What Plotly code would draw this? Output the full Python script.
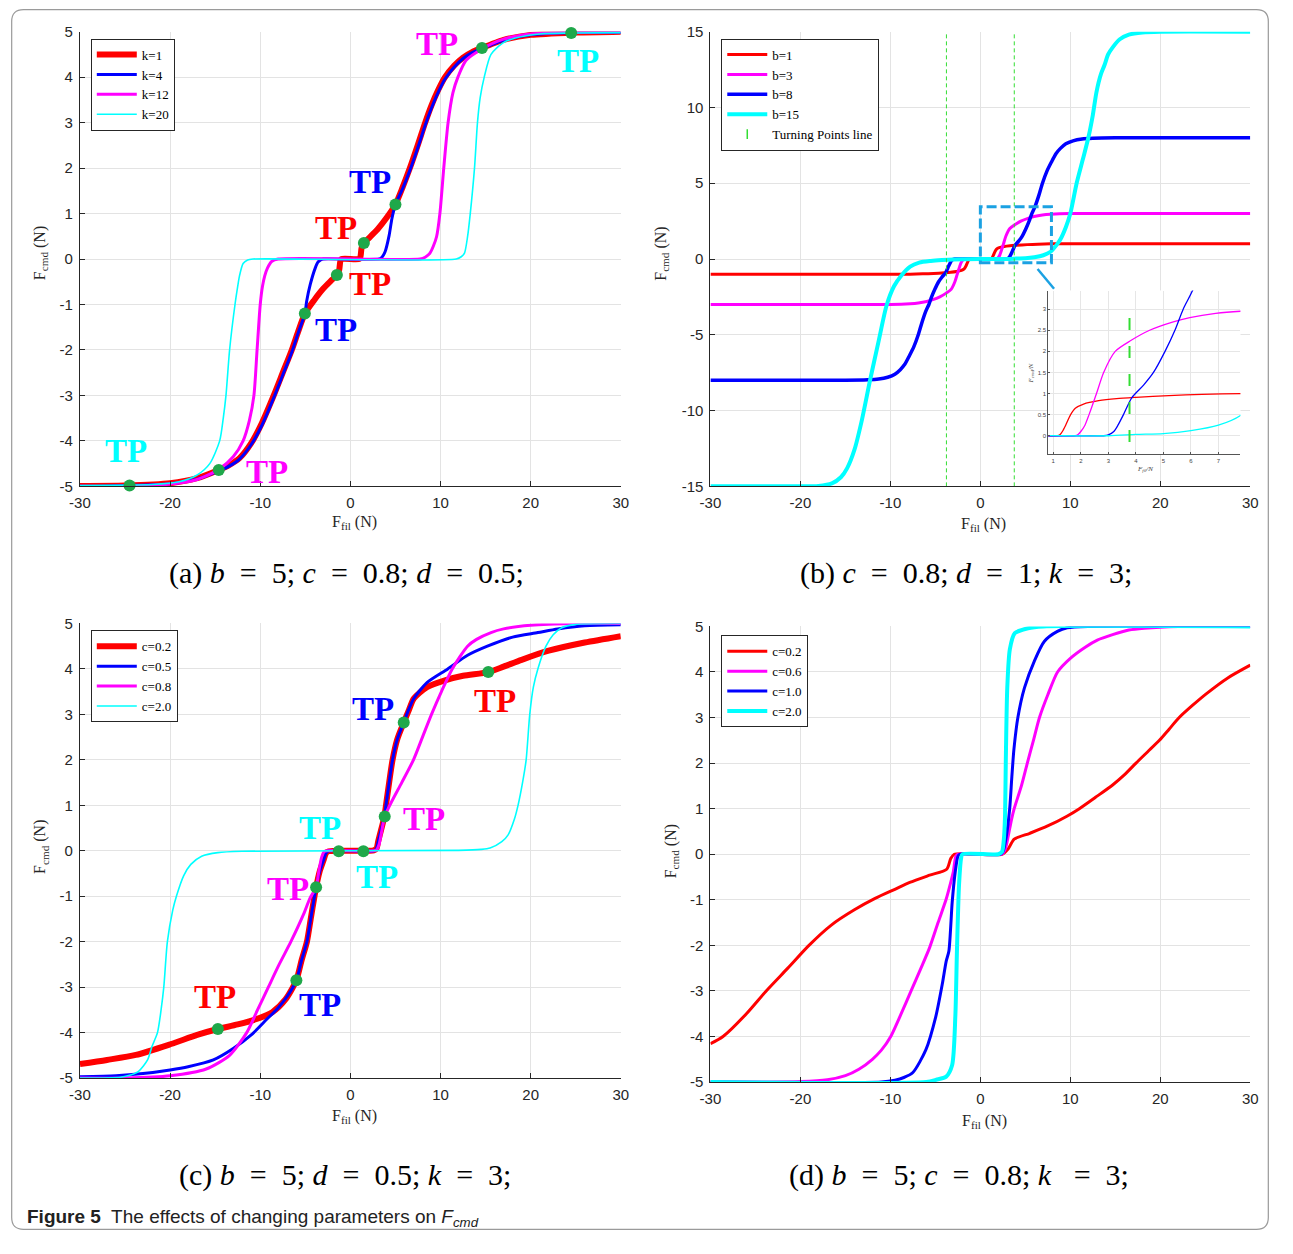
import plotly.graph_objects as go

# The page body keeps an 8px margin, so the figure is 16px smaller than the window
# and every reference pixel position is shifted by 8px.
PAGE_OFF = 8
W, H = 1293 - 2 * PAGE_OFF, 1254 - 2 * PAGE_OFF

RED, BLUE, MAG, CYAN = "#ff0000", "#0000ff", "#ff00ff", "#00ffff"
GREEN_DOT = "#1fa84a"
TP_GREEN = "#33dd33"
BOX_BLUE = "#1ba1e2"
AXC = "#262626"
GRID = "#e3e3e3"

# ---------------- data ----------------
# (a) b=5, c=0.8, d=0.5 ; varying k
A_K1 = [(-30,-4.99),(-25,-4.98),(-20,-4.93),(-17,-4.82),(-14.6,-4.64),(-13.5,-4.54),(-12.3,-4.38),
        (-11,-4.05),(-9.8,-3.6),(-8.5,-3.0),(-7.5,-2.5),(-6.5,-2.0),(-5.8,-1.6),(-5.05,-1.2),(-4,-0.9),
        (-3,-0.65),(-2,-0.45),(-1.5,-0.35),(-1.25,-0.25),(-1.12,-0.05),(-1.0,0),(1.0,0),(1.12,0.05),
        (1.25,0.25),(1.5,0.35),(2,0.45),(3,0.65),(4,0.9),(5,1.2),(5.8,1.58),(6.6,2.0),(7.5,2.52),
        (8.3,3.0),(9,3.38),(9.7,3.7),(10.5,4.0),(11.5,4.25),(12.5,4.43),(13.5,4.55),(14.6,4.64),
        (16,4.75),(17,4.82),(20,4.93),(25,4.98),(30,5.0)]
A_K4 = [(-30,-5.0),(-25,-4.98),(-20,-4.94),(-17,-4.84),(-14.6,-4.66),(-13.5,-4.56),(-12.3,-4.4),
        (-11,-4.08),(-9.8,-3.65),(-8.5,-3.05),(-7.5,-2.55),(-6.5,-2.05),(-5.8,-1.63),(-5.05,-1.2),
        (-4.85,-0.93),(-4.45,-0.56),(-3.9,-0.2),(-3.6,-0.07),(-3.3,-0.02),(-3.0,0),(3.2,0),(3.5,0.04),
        (3.85,0.16),(4.3,0.52),(4.6,0.88),(5,1.2),(5.8,1.55),(6.6,1.95),(7.5,2.46),(8.3,2.94),(9,3.32),
        (9.7,3.65),(10.5,3.96),(11.5,4.22),(12.5,4.41),(13.5,4.54),(14.6,4.63),(16,4.74),(17,4.81),
        (20,4.93),(25,4.98),(30,4.99)]
A_K12 = [(-30,-5.0),(-25,-5.0),(-20,-4.95),(-17,-4.85),(-14.6,-4.63),(-13.0,-4.35),(-11.9,-4.0),
         (-11.2,-3.55),(-10.7,-3.0),(-10.35,-2.0),(-10.0,-1.0),(-9.75,-0.6),(-9.5,-0.37),(-9.2,-0.2),
         (-8.7,-0.05),(-8.0,0),(7.74,0),(8.3,0.04),(8.83,0.13),(9.2,0.28),(9.56,0.49),(9.93,1.0),
         (10.36,2.0),(10.84,3.0),(11.38,3.66),(11.93,4.0),(12.84,4.37),(14.6,4.62),(16.9,4.83),
         (20,4.95),(25,4.99),(30,5.0)]
A_K20 = [(-30,-4.98),(-22,-4.96),(-19,-4.9),(-17,-4.75),(-15.6,-4.5),(-14.5,-4.0),(-14.1,-3.5),
         (-13.8,-3.0),(-13.4,-2.0),(-12.8,-1.0),(-12.5,-0.6),(-12.3,-0.37),(-11.9,-0.1),(-11.4,-0.02),
         (-10.8,0),(11.75,0),(12.3,0.05),(12.66,0.13),(13.0,0.49),(13.3,1.0),(13.77,2.0),(14.1,3.0),
         (14.4,3.55),(14.85,4.0),(15.6,4.5),(16.9,4.75),(18.3,4.86),(21,4.95),(24.5,4.97),(30,4.98)]
A_TP_DOTS = [(-24.5,-4.98),(-14.6,-4.64),(-5.05,-1.2),(-1.5,-0.35),(1.5,0.35),(5.0,1.2),(14.6,4.64),(24.5,4.97)]
A_TP_LABELS = [(9.6,4.72,MAG),(25.2,4.35,CYAN),(2.13,1.70,BLUE),(-1.58,0.68,RED),
               (2.13,-0.55,RED),(-1.58,-1.57,BLUE),(-24.9,-4.22,CYAN),(-9.2,-4.68,MAG)]

# (b) c=0.8, d=1, k=3 ; varying b
B_B1 = [(-30,-1.0),(-10,-1.0),(-7.8,-1.0),(-6.4,-0.98),(-5.2,-0.95),(-4.0,-0.91),(-3.3,-0.88),
        (-2.65,-0.83),(-2.1,-0.75),(-1.8,-0.65),(-1.63,-0.5),(-1.45,-0.25),(-1.33,-0.1),(-1.25,-0.03),
        (-1.15,0),(1.15,0),(1.25,0.03),(1.33,0.1),(1.45,0.25),(1.63,0.5),(1.8,0.65),(2.1,0.75),
        (2.65,0.83),(3.3,0.88),(4.0,0.91),(5.2,0.95),(6.4,0.98),(7.8,1.0),(10,1.0),(30,1.0)]
B_B3 = [(-30,-3.0),(-10,-3.0),(-7.8,-2.95),(-6.9,-2.9),(-5.96,-2.8),(-5.36,-2.7),(-4.5,-2.5),
        (-3.8,-2.25),(-3.25,-2.0),(-2.83,-1.5),(-2.57,-1.0),(-2.3,-0.5),(-2.15,-0.25),(-2.0,-0.1),
        (-1.9,-0.03),(-1.8,0),(1.8,0),(1.9,0.03),(2.0,0.1),(2.15,0.25),(2.3,0.5),(2.57,1.0),(2.83,1.5),
        (3.25,2.0),(3.8,2.25),(4.5,2.5),(5.36,2.7),(5.96,2.8),(6.9,2.9),(7.8,2.95),(10,3.0),(30,3.0)]
B_B8 = [(-30,-8.0),(-15,-8.0),(-12.5,-7.97),(-11.3,-7.92),(-10.3,-7.8),(-9.5,-7.6),(-8.9,-7.3),
        (-8.4,-6.95),(-7.9,-6.4),(-7.4,-5.8),(-6.9,-5.0),(-6.5,-4.2),(-6.06,-3.44),(-5.72,-3.0),
        (-5.42,-2.5),(-5.06,-2.0),(-4.64,-1.5),(-4.28,-1.2),(-3.85,-0.9),(-3.55,-0.5),(-3.35,-0.25),
        (-3.2,-0.1),(-3.0,-0.02),(-2.83,0),(2.83,0),(3.0,0.02),(3.2,0.1),(3.35,0.25),(3.55,0.5),
        (3.85,0.9),(4.28,1.2),(4.64,1.5),(5.06,2.0),(5.42,2.5),(5.72,3.0),(6.06,3.44),(6.5,4.2),
        (6.9,5.0),(7.4,5.8),(7.9,6.4),(8.4,6.95),(8.9,7.3),(9.5,7.6),(10.3,7.8),(11.3,7.92),
        (12.5,7.97),(15,8.0),(30,8.0)]
B_B15 = [(-30,-15.0),(-20,-15.0),(-18,-14.97),(-16.5,-14.8),(-15.5,-14.4),(-14.8,-13.8),(-14,-12.6),
         (-13.17,-10.63),(-12.26,-8.0),(-11.3,-5.4),(-10.44,-3.1),(-9.6,-1.8),(-8.8,-1.1),(-7.8,-0.5),
         (-6.8,-0.24),(-5.5,-0.13),(-4.27,-0.07),(-3,-0.03),(0,0),(3.0,0.0),(4,0.03),(5,0.05),(6,0.12),
         (7,0.25),(7.8,0.48),(8.5,0.95),(8.9,1.3),(9.5,2.1),(10,3.0),(10.7,5.0),(11.4,6.6),(12.0,8.0),
         (12.5,9.5),(12.9,11.0),(13.4,12.2),(13.8,12.8),(14.2,13.5),(14.75,14.0),(15.5,14.5),
         (16.5,14.8),(18,14.95),(20,15.0),(30,15.0)]
TP_LINES_X = [-3.77, 3.77]
ZOOM_BOX = (0.0, 7.9, -0.25, 3.45)          # x0, x1, y0, y1 in panel (b) units
ZOOM_LEADER = [(6.36, -0.66), (8.19, -1.96)]
INSET_XRANGE = [0.82, 7.8]
INSET_YRANGE = [-0.44, 3.44]

# (c) b=5, d=0.5, k=3 ; varying c
C_C02 = [(-30,-4.69),(-27,-4.6),(-23.8,-4.49),(-19.9,-4.25),(-17,-4.05),(-14.7,-3.92),(-12.5,-3.82),
         (-10.4,-3.7),(-8.66,-3.55),(-7.2,-3.27),(-6.0,-2.85),(-5.4,-2.4),(-4.82,-2.0),(-4.4,-1.5),
         (-3.98,-1.0),(-3.8,-0.8),(-3.4,-0.45),(-3.0,-0.22),(-2.7,-0.05),(-2.4,-0.01),(2.6,0.01),
         (2.9,0.05),(3.1,0.22),(3.4,0.45),(3.77,0.755),(3.95,1.0),(4.3,1.5),(4.68,2.0),(5.2,2.45),
         (5.92,2.82),(6.5,3.1),(7.04,3.35),(8.5,3.6),(10.5,3.75),(12.5,3.85),(15.3,3.93),(17,4.05),
         (19,4.2),(22,4.4),(26,4.58),(30,4.72)]
C_C05 = [(-30,-4.97),(-26,-4.95),(-23,-4.9),(-20,-4.82),(-18,-4.75),(-15.2,-4.6),(-13,-4.35),
         (-11,-4.05),(-9.5,-3.75),(-8,-3.45),(-7,-3.2),(-6.0,-2.85),(-5.4,-2.4),(-4.82,-2.0),(-4.4,-1.5),
         (-3.98,-1.0),(-3.8,-0.8),(-3.4,-0.45),(-3.0,-0.22),(-2.7,-0.05),(-2.4,0),(2.6,0),(2.9,0.05),
         (3.1,0.22),(3.4,0.45),(3.77,0.755),(3.95,1.0),(4.3,1.5),(4.68,2.0),(5.2,2.45),(5.92,2.82),
         (6.5,3.12),(7.04,3.35),(8.5,3.7),(10.8,4.0),(13,4.3),(15.2,4.5),(18,4.7),(20.8,4.8),(23,4.88),
         (26,4.95),(30,4.97)]
C_C08 = [(-30,-5.0),(-25,-5.0),(-20,-4.95),(-16,-4.8),(-13.4,-4.5),(-11.5,-4.0),(-10.3,-3.5),
         (-9.1,-3.0),(-7.9,-2.5),(-6.6,-2.0),(-5.2,-1.4),(-4.5,-1.05),(-3.8,-0.8),(-3.5,-0.45),
         (-3.2,-0.15),(-2.9,-0.02),(-2.6,0),(2.6,0),(2.9,0.02),(3.2,0.15),(3.5,0.45),(3.81,0.755),
         (4.5,1.05),(5.7,1.5),(7.0,2.0),(8.0,2.5),(9.0,3.0),(10.1,3.5),(11.3,4.0),(13,4.5),(14,4.65),
         (15.6,4.8),(17,4.88),(20,4.96),(25,5.0),(30,5.0)]
C_C20 = [(-30,-5.0),(-25.5,-4.98),(-24.7,-4.95),(-23.5,-4.85),(-22.5,-4.6),(-22.0,-4.3),(-21.4,-4.0),
         (-21,-3.5),(-20.7,-3.0),(-20.3,-2.0),(-19.7,-1.3),(-19.3,-1.0),(-18.5,-0.55),(-17.7,-0.3),
         (-16.5,-0.12),(-14.7,-0.04),(-12,-0.01),(12,0.01),(14.5,0.03),(15.5,0.06),(16.8,0.2),
         (17.5,0.35),(18.2,0.7),(18.6,1.0),(19.1,1.5),(19.5,2.0),(19.9,3.0),(20.3,3.6),(20.8,4.0),
         (21.7,4.5),(22.5,4.75),(23.4,4.9),(25,4.98),(30,5.0)]
C_TP_DOTS = [(-14.7,-3.92),(-5.99,-2.85),(-3.8,-0.8),(-1.29,-0.01),(1.44,-0.01),(3.81,0.755),(5.92,2.82),(15.3,3.93)]
C_TP_LABELS = [(2.46,3.11,BLUE),(16.1,3.29,RED),(-3.33,0.51,CYAN),(8.14,0.70,MAG),
               (3.0,-0.57,CYAN),(-6.9,-0.84,MAG),(-15.0,-3.22,RED),(-3.33,-3.39,BLUE)]

# (d) b=5, c=0.8, k=3 ; varying d (labelled "c=" in the original legend)
D_C02 = [(-30,-4.16),(-28.6,-4.0),(-26,-3.5),(-23.8,-3.0),(-21.4,-2.5),(-19.05,-2.0),(-16.6,-1.56),
         (-14,-1.22),(-11.7,-0.97),(-9.5,-0.77),(-7.85,-0.62),(-5.64,-0.46),(-3.74,-0.33),(-3.3,-0.1),
         (-2.9,0),(2.4,0),(3.1,0.12),(3.76,0.33),(5.5,0.46),(7.48,0.62),(9.67,0.84),(11.0,1.0),
         (12.8,1.25),(14.7,1.52),(16,1.74),(17.3,2.0),(18.6,2.25),(19.9,2.5),(21,2.75),(22.1,3.0),
         (23.6,3.27),(25.1,3.52),(27.5,3.87),(30,4.15)]
D_C06 = [(-30,-5.0),(-20,-4.99),(-17,-4.95),(-15,-4.86),(-13.5,-4.72),(-12,-4.5),(-11,-4.3),
         (-9.96,-4.0),(-8.8,-3.5),(-7.7,-3.0),(-6.6,-2.5),(-5.64,-2.05),(-4.7,-1.5),(-3.82,-1.0),
         (-3.4,-0.7),(-3.0,-0.38),(-2.73,-0.05),(-2.5,0),(2.4,0),(2.75,0.1),(3.1,0.4),(3.45,0.75),
         (3.76,1.0),(4.56,1.5),(5.22,2.0),(5.9,2.5),(6.57,3.0),(7.5,3.5),(8.58,4.0),(10,4.3),
         (11.7,4.55),(13,4.7),(14.7,4.82),(16.5,4.92),(18.2,4.96),(22,5.0),(30,5.0)]
D_C10 = [(-30,-5.0),(-11,-5.0),(-9.5,-4.96),(-8.5,-4.9),(-7.5,-4.79),(-6.05,-4.29),(-4.96,-3.57),
         (-4.23,-2.85),(-3.8,-2.35),(-3.5,-2.13),(-3.13,-1.05),(-2.8,-0.4),(-2.5,-0.05),(-2.3,0),
         (2.2,0),(2.5,0.05),(2.89,0.4),(3.26,1.0),(3.5,1.7),(3.73,2.3),(4.17,3.0),(4.9,3.65),
         (6.0,4.24),(7.1,4.67),(8.56,4.89),(9.66,4.97),(12,5.0),(30,5.0)]
D_C20 = [(-30,-5.0),(-6,-5.0),(-4.9,-4.95),(-3.8,-4.88),(-3.14,-4.63),(-2.78,-3.55),(-2.6,-2.1),
         (-2.37,-0.67),(-2.15,-0.1),(-2.0,0),(2.0,0),(2.4,0.05),(2.6,0.3),(2.73,0.77),(2.84,2.2),
         (2.99,3.65),(3.28,4.5),(3.83,4.85),(5.3,4.96),(7,5.0),(30,5.0)]

X_TICKS = [-30, -20, -10, 0, 10, 20, 30]
Y_TICKS_5 = [-5, -4, -3, -2, -1, 0, 1, 2, 3, 4, 5]
Y_TICKS_15 = [-15, -10, -5, 0, 5, 10, 15]
INSET_XTICKS = [1, 2, 3, 4, 5, 6, 7]
INSET_YTICKS = [0, 0.5, 1, 1.5, 2, 2.5, 3]

# ---------------- figure ----------------
fig = go.Figure()


def px_x(px):
    """reference page pixel -> paper fraction"""
    return (px - PAGE_OFF) / W


def px_y(py):
    return 1 - (py - PAGE_OFF) / H


def add_curve(pairs, color, width, name, ax, legend, showlegend=True):
    fig.add_trace(go.Scatter(
        x=[p[0] for p in pairs], y=[p[1] for p in pairs], mode="lines",
        line=dict(color=color, width=width, shape="spline", smoothing=0.7), name=name,
        xaxis=ax[0], yaxis=ax[1], legend=legend, showlegend=showlegend))


def add_dots(pairs, ax):
    fig.add_trace(go.Scatter(
        x=[p[0] for p in pairs], y=[p[1] for p in pairs], mode="markers",
        marker=dict(color=GREEN_DOT, size=12), showlegend=False, cliponaxis=False,
        xaxis=ax[0], yaxis=ax[1]))


AX_A, AX_B, AX_C, AX_D, AX_I = ("x", "y"), ("x2", "y2"), ("x3", "y3"), ("x4", "y4"), ("x5", "y5")

# panel (a)
add_curve(A_K1, RED, 6, "k=1", AX_A, "legend")
add_curve(A_K4, BLUE, 3, "k=4", AX_A, "legend")
add_curve(A_K12, MAG, 3, "k=12", AX_A, "legend")
add_curve(A_K20, CYAN, 1.6, "k=20", AX_A, "legend")
add_dots(A_TP_DOTS, AX_A)

# panel (b)
add_curve(B_B1, RED, 3, "b=1", AX_B, "legend2")
add_curve(B_B3, MAG, 3, "b=3", AX_B, "legend2")
add_curve(B_B8, BLUE, 3.5, "b=8", AX_B, "legend2")
add_curve(B_B15, CYAN, 4, "b=15", AX_B, "legend2")
for xv in TP_LINES_X:
    fig.add_trace(go.Scatter(x=[xv, xv], y=[Y_TICKS_15[0], Y_TICKS_15[-1]], mode="lines",
                             line=dict(color=TP_GREEN, width=1, dash="4px,3px"),
                             showlegend=False, xaxis="x2", yaxis="y2"))
fig.add_trace(go.Scatter(x=[None], y=[None], mode="markers", name="Turning Points line",
                         marker=dict(symbol="line-ns", size=7, color=TP_GREEN,
                                     line=dict(color=TP_GREEN, width=1.5)),
                         xaxis="x2", yaxis="y2", legend="legend2"))
fig.add_trace(go.Scatter(x=[p[0] for p in ZOOM_LEADER], y=[p[1] for p in ZOOM_LEADER], mode="lines",
                         line=dict(color=BOX_BLUE, width=2.5), showlegend=False,
                         xaxis="x2", yaxis="y2"))

# inset of panel (b): same curves, zoomed
add_curve(B_B1, RED, 1.3, "b=1", AX_I, "legend2", False)
add_curve(B_B3, MAG, 1.3, "b=3", AX_I, "legend2", False)
add_curve(B_B8, BLUE, 1.3, "b=8", AX_I, "legend2", False)
add_curve(B_B15, CYAN, 1.3, "b=15", AX_I, "legend2", False)
fig.add_trace(go.Scatter(x=[TP_LINES_X[1], TP_LINES_X[1]], y=[-0.15, 3.1], mode="lines",
                         line=dict(color=TP_GREEN, width=2, dash="12px,16px"),
                         showlegend=False, xaxis="x5", yaxis="y5"))

# panel (c)
add_curve(C_C02, RED, 6, "c=0.2", AX_C, "legend3")
add_curve(C_C05, BLUE, 3, "c=0.5", AX_C, "legend3")
add_curve(C_C08, MAG, 3, "c=0.8", AX_C, "legend3")
add_curve(C_C20, CYAN, 1.6, "c=2.0", AX_C, "legend3")
add_dots(C_TP_DOTS, AX_C)

# panel (d)
add_curve(D_C02, RED, 3, "c=0.2", AX_D, "legend4")
add_curve(D_C06, MAG, 3, "c=0.6", AX_D, "legend4")
add_curve(D_C10, BLUE, 3, "c=1.0", AX_D, "legend4")
add_curve(D_C20, CYAN, 4, "c=2.0", AX_D, "legend4")

# ---------------- axes ----------------
TICKFONT = dict(family="Liberation Sans, Arial, sans-serif", size=15, color=AXC)


def axis(dom, rng, ticks, anchor):
    return dict(domain=dom, range=rng, tickvals=ticks, ticktext=[str(t) for t in ticks],
                showline=True, linecolor=AXC, linewidth=1, mirror=False,
                ticks="inside", ticklen=5, tickcolor=AXC, tickwidth=1,
                showgrid=True, gridcolor=GRID, gridwidth=1, zeroline=False,
                tickfont=TICKFONT, anchor=anchor, ticklabelstandoff=3, fixedrange=True)


XD_L = [px_x(78), px_x(627)]
XD_R = [px_x(718), px_x(1266)]
YD_T = [px_y(492), px_y(31)]
YD_C = [px_y(1092), px_y(631)]
YD_D = [px_y(1096), px_y(634)]

fig.update_layout(
    xaxis=axis(XD_L, [-30, 30], X_TICKS, "y"),
    yaxis=axis(YD_T, [-5, 5], Y_TICKS_5, "x"),
    xaxis2=axis(XD_R, [-30, 30], X_TICKS, "y2"),
    yaxis2=axis(YD_T, [-15, 15], Y_TICKS_15, "x2"),
    xaxis3=axis(XD_L, [-30, 30], X_TICKS, "y3"),
    yaxis3=axis(YD_C, [-5, 5], Y_TICKS_5, "x3"),
    xaxis4=axis(XD_R, [-30, 30], X_TICKS, "y4"),
    yaxis4=axis(YD_D, [-5, 5], Y_TICKS_5, "x4"),
)
INSET_FONT = dict(family="Liberation Sans, Arial, sans-serif", size=6, color="#444")
inset_common = dict(showline=True, linecolor="#555", linewidth=1, ticks="inside", ticklen=2,
                    tickcolor="#555", showgrid=True, gridcolor="#e6e6e6", zeroline=False,
                    tickfont=INSET_FONT, fixedrange=True)
fig.update_layout(
    xaxis5=dict(domain=[px_x(1061), px_x(1256)], range=INSET_XRANGE, tickvals=INSET_XTICKS,
                ticktext=[str(t) for t in INSET_XTICKS], anchor="y5", **inset_common),
    yaxis5=dict(domain=[px_y(459.5), px_y(293.5)], range=INSET_YRANGE, tickvals=INSET_YTICKS,
                ticktext=[("%g" % t) for t in INSET_YTICKS], anchor="x5", **inset_common),
)

# ---------------- legends ----------------
LEGFONT = dict(family="Liberation Serif, Times New Roman, serif", size=13, color="black")


def legend(px, py):
    return dict(x=px_x(px), y=px_y(py), xanchor="left", yanchor="top", bgcolor="white",
                bordercolor=AXC, borderwidth=1, font=LEGFONT, itemwidth=40,
                tracegroupgap=0, traceorder="normal")


fig.update_layout(legend=legend(89, 38), legend2=legend(729, 38),
                  legend3=legend(89, 638), legend4=legend(729, 643))

# ---------------- shapes ----------------
shapes = []
# white backing for the inset so the main panel does not show through
shapes.append(dict(type="rect", xref="x5", yref="y5", x0=INSET_XRANGE[0], x1=INSET_XRANGE[1],
                   y0=INSET_YRANGE[0], y1=INSET_YRANGE[1], fillcolor="white",
                   line=dict(width=0), layer="below"))
shapes.append(dict(type="rect", xref="x2", yref="y2", x0=ZOOM_BOX[0], x1=ZOOM_BOX[1],
                   y0=ZOOM_BOX[2], y1=ZOOM_BOX[3], line=dict(color=BOX_BLUE, width=3, dash="10px,4px"),
                   layer="above"))
# outer rounded frame (as close to the page edge as the figure allows)
x0, x1, y0, y1 = px_x(8.7), px_x(1284.3), px_y(1245.3), px_y(8.7)
rx, ry = 12 / W, 12 / H
path = (f"M {x0+rx},{y1} L {x1-rx},{y1} Q {x1},{y1} {x1},{y1-ry} L {x1},{y0+ry} "
        f"Q {x1},{y0} {x1-rx},{y0} L {x0+rx},{y0} Q {x0},{y0} {x0},{y0+ry} "
        f"L {x0},{y1-ry} Q {x0},{y1} {x0+rx},{y1} Z")
shapes.append(dict(type="path", xref="paper", yref="paper", path=path,
                   line=dict(color="#9a9a9a", width=1.2), layer="below"))
fig.update_layout(shapes=shapes)

# ---------------- annotations ----------------
ann = []
TPFONT = "Liberation Serif, Times New Roman, serif"
for labels, (xa, ya) in ((A_TP_LABELS, AX_A), (C_TP_LABELS, AX_C)):
    for (tx, ty, col) in labels:
        ann.append(dict(x=tx, y=ty, xref=xa, yref=ya, text="<b>TP</b>", showarrow=False,
                        xanchor="center", yanchor="middle",
                        font=dict(family=TPFONT, size=33, color=col)))


def paper_note(px, py, text, font, angle=0, xanchor="center"):
    ann.append(dict(x=px_x(px), y=px_y(py), xref="paper", yref="paper", text=text,
                    textangle=angle, showarrow=False, xanchor=xanchor, yanchor="middle", font=font))


TITLEFONT = dict(family="Liberation Serif, Times New Roman, serif", size=16, color=AXC)
for (px, py) in ((38, 256), (668, 256), (38, 858), (678, 862)):
    paper_note(px, py, "F<sub>cmd</sub> (N)", TITLEFONT, angle=-90)
for (px, py) in ((357, 529), (995, 531), (357, 1131), (996, 1136)):
    paper_note(px, py, "F<sub>fil</sub> (N)", TITLEFONT)

# inset axis labels
INSET_LAB = dict(family="Liberation Serif", size=7, color="#444")
paper_note(1159, 474, "<i>F<sub>fil</sub>/N</i>", INSET_LAB)
paper_note(1043, 378, "<i>F<sub>cmd</sub>/N</i>", INSET_LAB, angle=-90)

CAPFONT = dict(family="Liberation Serif, Times New Roman, serif", size=30, color="black")
EQ = "&nbsp; = &nbsp;"
captions = [
    (349, 580, f"(a) <i>b</i>{EQ}5; <i>c</i>{EQ}0.8; <i>d</i>{EQ}0.5;"),
    (977, 580, f"(b) <i>c</i>{EQ}0.8; <i>d</i>{EQ}1; <i>k</i>{EQ}3;"),
    (347, 1190, f"(c) <i>b</i>{EQ}5; <i>d</i>{EQ}0.5; <i>k</i>{EQ}3;"),
    (970, 1190, f"(d) <i>b</i>{EQ}5; <i>c</i>{EQ}0.8; <i>k</i> {EQ}3;"),
]
for (px, py, txt) in captions:
    paper_note(px, py, txt, CAPFONT)
paper_note(22, 1234, "<b>Figure 5</b>  The effects of changing parameters on <i>F<sub>cmd</sub></i>",
           dict(family="Liberation Sans, Arial, sans-serif", size=19, color="#222"), xanchor="left")
fig.update_layout(annotations=ann)

fig.update_layout(width=W, height=H, autosize=False, margin=dict(l=0, r=0, t=0, b=0),
                  paper_bgcolor="white", plot_bgcolor="white")

fig.write_html("out.html")
